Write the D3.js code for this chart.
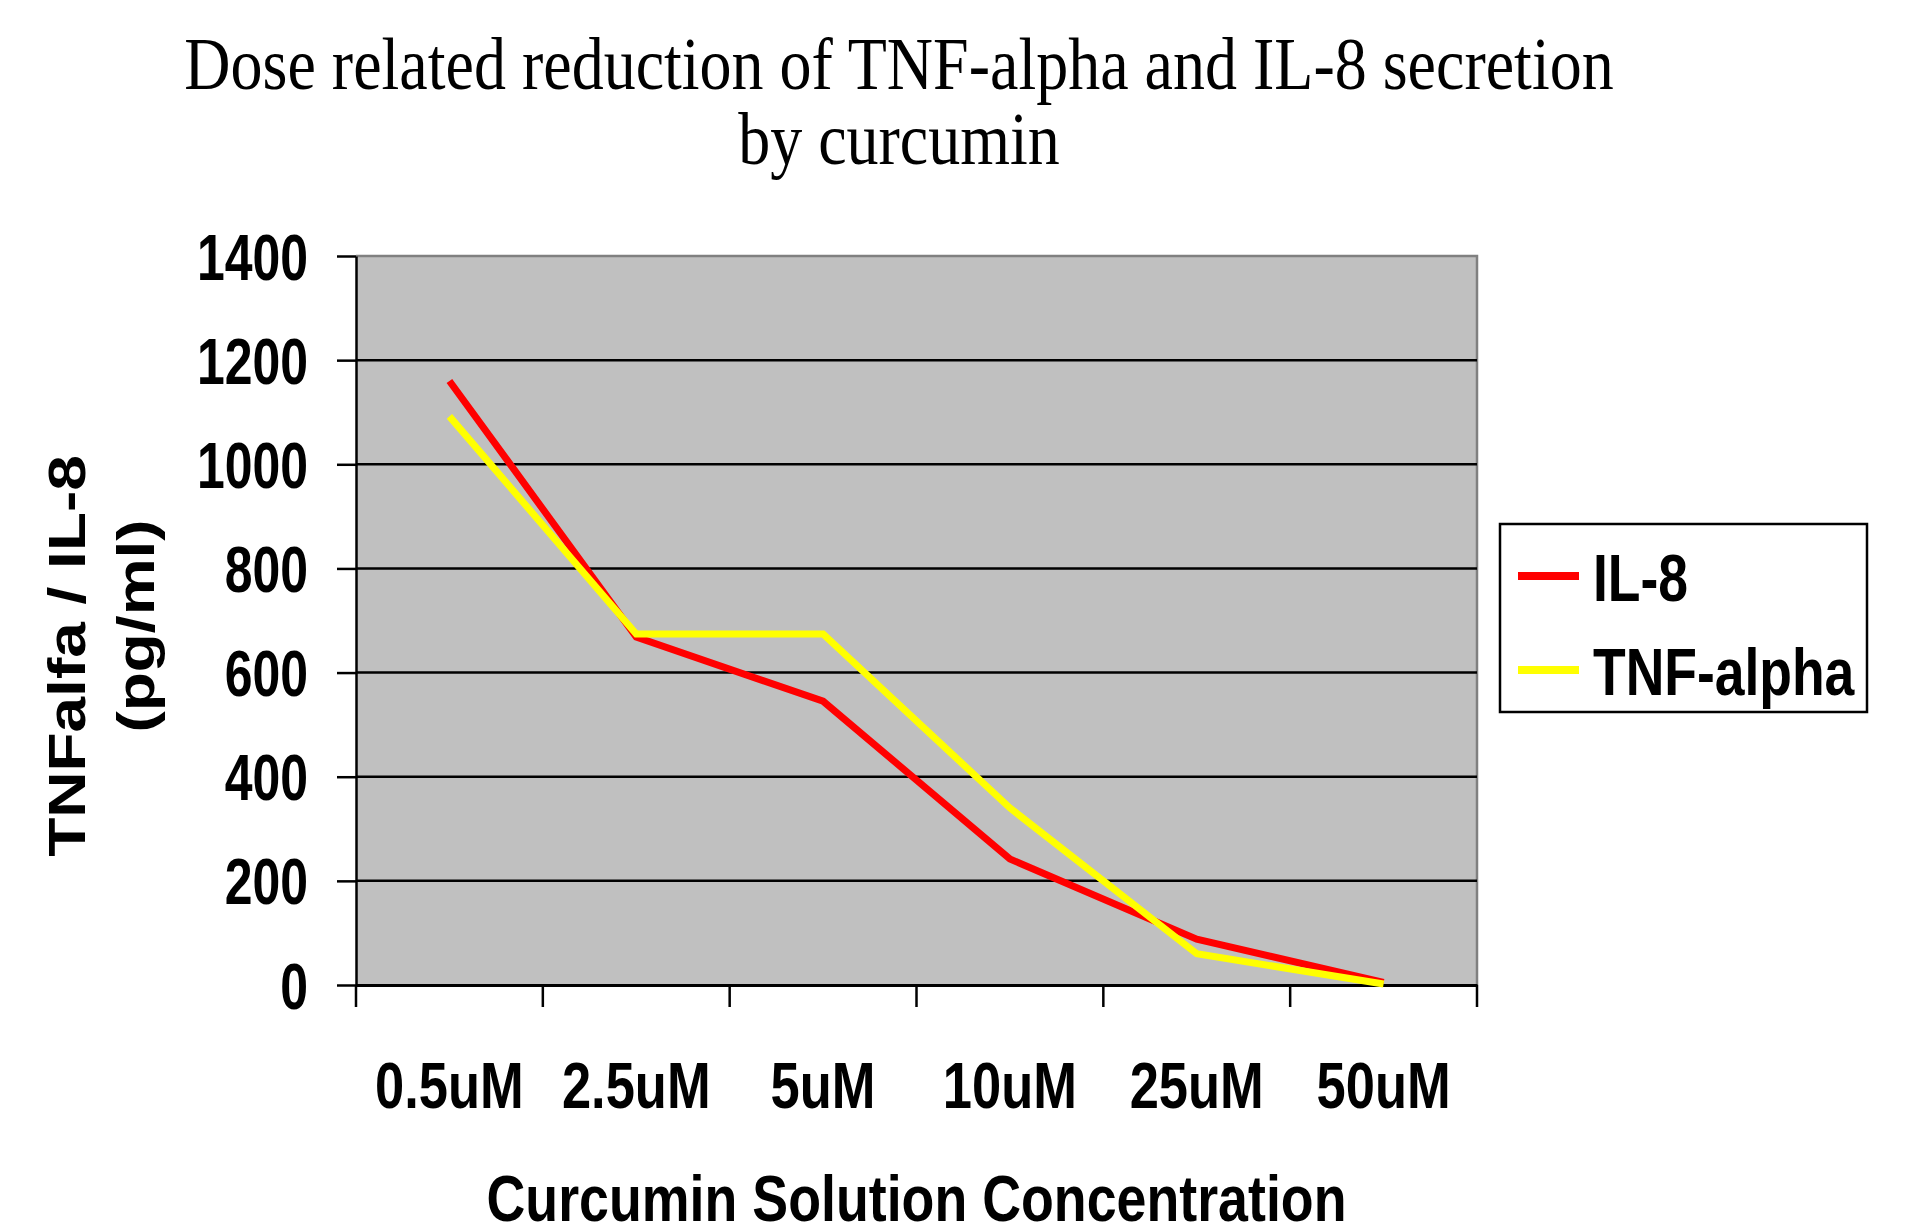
<!DOCTYPE html>
<html>
<head>
<meta charset="utf-8">
<script src="https://cdn.jsdelivr.net/npm/d3@7"></script>
<style>
  html, body { margin: 0; padding: 0; background: #ffffff; }
  svg { display: block; }
</style>
</head>
<body>
<svg id="chart" width="1905" height="1225"></svg>
<script>
// ---- data ----
const categories = ["0.5uM", "2.5uM", "5uM", "10uM", "25uM", "50uM"];
const il8 = [1160, 668, 545, 242, 88, 5];
const tnfAlpha = [1092, 674, 674, 340, 60, 2];
const yTicks = [0, 200, 400, 600, 800, 1000, 1200, 1400];
const seriesNames = ["IL-8", "TNF-alpha"];
const seriesColors = ["#FF0000", "#FFFF00"];
const titleLines = ["Dose related reduction of TNF-alpha and IL-8 secretion", "by curcumin"];
const yTitleLines = ["TNFalfa / IL-8", "(pg/ml)"];
const xTitle = "Curcumin Solution Concentration";

// ---- layout ----
const svg = d3.select("#chart");
const plot = { left: 356, right: 1477, top: 256, bottom: 985 };
const SANS = "'Liberation Sans', Arial, sans-serif";
const SERIF = "'Liberation Serif', 'Times New Roman', serif";

const x = d3.scaleBand().domain(categories).range([plot.left, plot.right]).padding(0);
const y = d3.scaleLinear().domain([0, 1400]).range([plot.bottom, plot.top]);
const cx = c => x(c) + x.bandwidth() / 2;

// plot background
svg.append("rect")
  .attr("x", plot.left).attr("y", plot.top)
  .attr("width", plot.right - plot.left).attr("height", plot.bottom - plot.top)
  .attr("fill", "#C0C0C0");

// top and right border (grey)
svg.append("path")
  .attr("d", `M${plot.left},${plot.top}H${plot.right}V${plot.bottom}`)
  .attr("fill", "none").attr("stroke", "#808080").attr("stroke-width", 2.5);

// gridlines
svg.append("g").selectAll("line")
  .data(yTicks.filter(t => t > 0 && t < 1400))
  .join("line")
  .attr("x1", plot.left).attr("x2", plot.right)
  .attr("y1", d => y(d)).attr("y2", d => y(d))
  .attr("stroke", "#000").attr("stroke-width", 2.5);

// y axis
const yAxis = svg.append("g")
  .attr("transform", `translate(${plot.left},0)`)
  .call(d3.axisLeft(y).tickValues(yTicks).tickSize(19).tickSizeOuter(0).tickFormat(d3.format("d")));
yAxis.select(".domain").attr("stroke", "#000").attr("stroke-width", 2.5);
yAxis.selectAll(".tick line").attr("stroke", "#000").attr("stroke-width", 2.5);
yAxis.selectAll(".tick text")
  .attr("x", null).attr("dy", null)
  .attr("text-anchor", "end")
  .attr("transform", "translate(-48,23) scale(0.78,1)")
  .attr("font-family", SANS).attr("font-weight", "bold").attr("font-size", 64)
  .attr("fill", "#000");

// x axis
const xAxis = svg.append("g")
  .attr("transform", `translate(0,${plot.bottom})`)
  .call(d3.axisBottom(x).tickSize(0).tickSizeOuter(0));
xAxis.select(".domain").attr("stroke", "#000").attr("stroke-width", 3);
xAxis.selectAll(".tick text")
  .attr("y", null).attr("dy", null)
  .attr("text-anchor", "middle")
  .attr("transform", "translate(0,123) scale(0.82,1)")
  .attr("font-family", SANS).attr("font-weight", "bold").attr("font-size", 64)
  .attr("fill", "#000");

// x boundary ticks
const boundaries = categories.map(c => x(c)).concat([x.range()[1]]);
svg.append("g").selectAll("line")
  .data(boundaries)
  .join("line")
  .attr("x1", d => d).attr("x2", d => d)
  .attr("y1", plot.bottom).attr("y2", plot.bottom + 22)
  .attr("stroke", "#000").attr("stroke-width", 2.5);

// series lines
const line = d3.line().x((d, i) => cx(categories[i])).y(d => y(d));
[il8, tnfAlpha].forEach((vals, k) => {
  svg.append("path")
    .datum(vals)
    .attr("d", line)
    .attr("fill", "none")
    .attr("stroke", seriesColors[k])
    .attr("stroke-width", 7)
    .attr("stroke-linejoin", "miter")
    .attr("stroke-linecap", "butt");
});

// title
const titleBaselines = [89, 164];
titleLines.forEach((t, i) => {
  svg.append("text")
    .attr("transform", `translate(899,${titleBaselines[i]}) scale(0.865,1)`)
    .attr("text-anchor", "middle")
    .attr("font-family", SERIF).attr("font-size", 74)
    .attr("fill", "#000")
    .text(t);
});

// x title
svg.append("text")
  .attr("transform", `translate(${(plot.left + plot.right) / 2},1221) scale(0.84,1)`)
  .attr("text-anchor", "middle")
  .attr("font-family", SANS).attr("font-weight", "bold").attr("font-size", 64)
  .attr("fill", "#000")
  .text(xTitle);

// y title (rotated, compressed horizontally)
const yTitlePos = [[85, 656], [154, 626]];
yTitleLines.forEach((t, i) => {
  svg.append("text")
    .attr("transform", `translate(${yTitlePos[i][0]},${yTitlePos[i][1]}) scale(0.8,1) rotate(-90)`)
    .attr("text-anchor", "middle")
    .attr("font-family", SANS).attr("font-weight", "bold").attr("font-size", 64)
    .attr("fill", "#000")
    .text(t);
});

// legend
const legend = svg.append("g");
legend.append("rect")
  .attr("x", 1500).attr("y", 524).attr("width", 367).attr("height", 188)
  .attr("fill", "#fff").attr("stroke", "#000").attr("stroke-width", 2.5);
const legendY = [576, 670];
seriesNames.forEach((n, i) => {
  legend.append("line")
    .attr("x1", 1518).attr("x2", 1579)
    .attr("y1", legendY[i]).attr("y2", legendY[i])
    .attr("stroke", seriesColors[i]).attr("stroke-width", 8);
  legend.append("text")
    .attr("transform", `translate(1593,${legendY[i] + 25}) scale(0.81,1)`)
    .attr("font-family", SANS).attr("font-weight", "bold").attr("font-size", 66)
    .attr("fill", "#000")
    .text(n);
});
</script>
</body>
</html>
